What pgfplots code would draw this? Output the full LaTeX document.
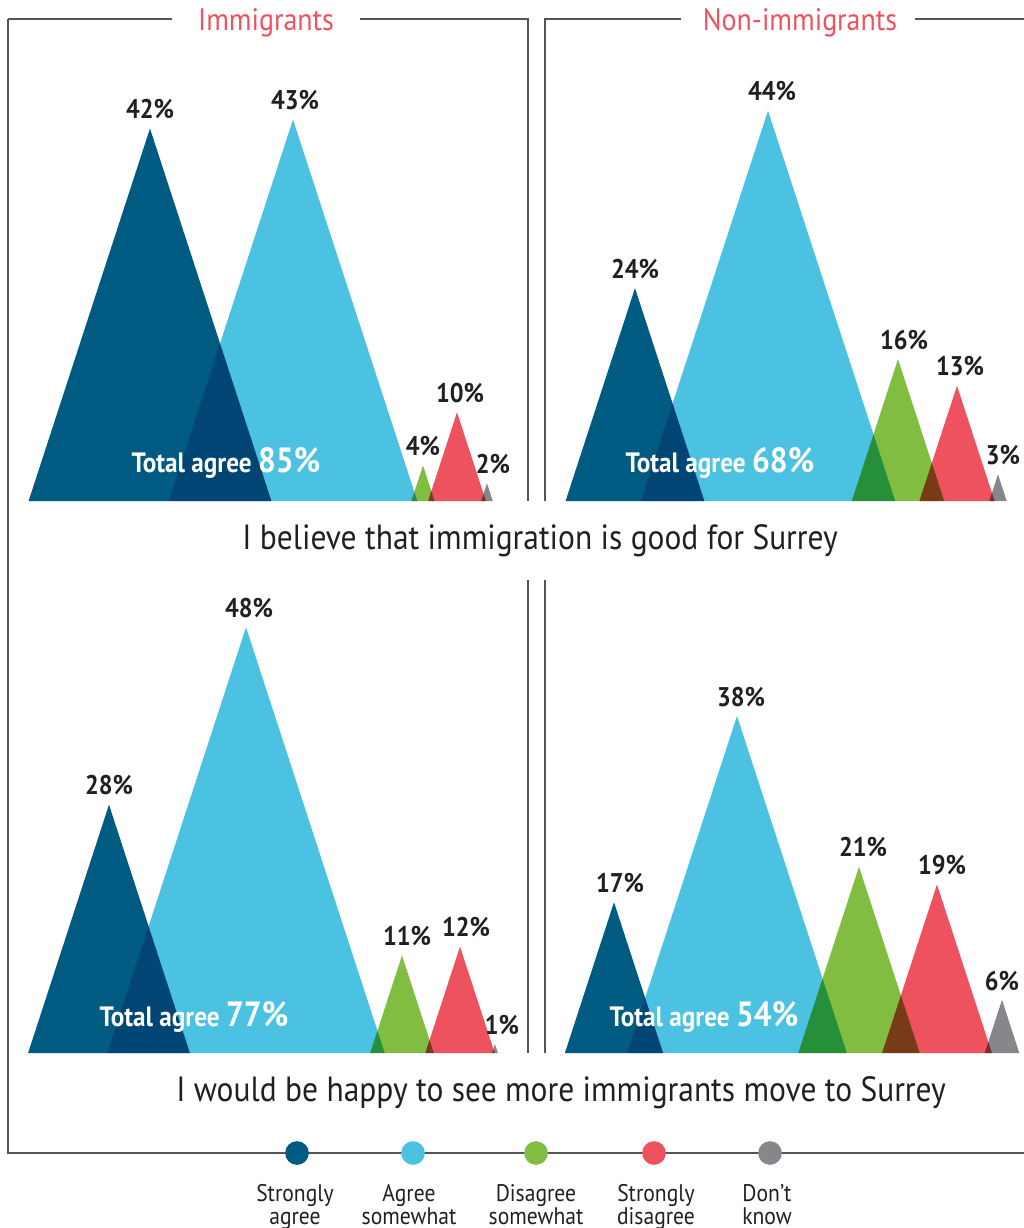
\documentclass[border=0pt]{standalone}
\usepackage{fontspec}
\setmainfont{PT Sans}[FakeStretch=0.9]
\usepackage{pgfplots}
\pgfplotsset{compat=1.18}
\definecolor{sa}{HTML}{005B82}
\definecolor{as}{HTML}{4BC2E2}
\definecolor{ds}{HTML}{80BD41}
\definecolor{sd}{HTML}{EE525E}
\definecolor{dk}{HTML}{86878B}
\definecolor{txt}{HTML}{231F20}
\definecolor{frame}{HTML}{555555}
\pgfplotsset{
  tri/.style={hide axis, clip=false, scale only axis, x=0.5pt, y=4.435pt,
    xmin=0, xmax=1024, ymin=0, ymax=50, anchor=south west},
  t/.style={fill=#1, draw=none, blend mode=multiply},
  lab/.style={only marks, mark=none, nodes near coords, point meta=explicit symbolic,
    nodes near coords style={font=\bfseries\fontsize{13.5}{15}\selectfont, text=txt, anchor=south, inner sep=0pt, yshift=4.5pt}},
}
\begin{document}
\begin{tikzpicture}[x=0.5pt,y=-0.5pt]
\useasboundingbox (0,0) rectangle (1024,1228);
% frame
\draw[frame, line width=0.8pt] (8,19) -- (8,1153) -- (1024,1153);
\draw[frame, line width=0.8pt] (8,19) -- (172,19);
\draw[frame, line width=0.8pt] (360,19) -- (528,19) -- (528,501);
\draw[frame, line width=0.8pt] (545,501) -- (545,19) -- (681,19);
\draw[frame, line width=0.8pt] (915,19) -- (1024,19);
\draw[frame, line width=0.8pt] (528,580) -- (528,1053);
\draw[frame, line width=0.8pt] (545,580) -- (545,1053);
% top row
\begin{axis}[tri, at={(0pt,-250.5pt)}]
\addplot[t=sa] coordinates {(28.6,0) (150,42) (271.4,0)} \closedcycle;
\addplot[t=as] coordinates {(168.7,0) (293,43) (417.3,0)} \closedcycle;
\addplot[t=ds] coordinates {(411.4,0) (423,4) (434.6,0)} \closedcycle;
\addplot[t=sd] coordinates {(428.1,0) (457,10) (485.9,0)} \closedcycle;
\addplot[t=dk] coordinates {(481.2,0) (487,2) (492.8,0)} \closedcycle;
\addplot[lab] coordinates {(150,42)[42\%] (295,43)[43\%] (423,4)[4\%] (460,10)[10\%] (493,2)[2\%]};
\addplot[t=sa] coordinates {(565.6,0) (635,24) (704.4,0)} \closedcycle;
\addplot[t=as] coordinates {(640.8,0) (768,44) (895.2,0)} \closedcycle;
\addplot[t=ds] coordinates {(851.8,0) (898,16) (944.2,0)} \closedcycle;
\addplot[t=sd] coordinates {(919.4,0) (957,13) (994.6,0)} \closedcycle;
\addplot[t=dk] coordinates {(989.3,0) (998,3) (1006.7,0)} \closedcycle;
\addplot[lab] coordinates {(635,24)[24\%] (772,44)[44\%] (904,16)[16\%] (960,13)[13\%] (1003,3)[3\%]};
\end{axis}
% bottom row
\begin{axis}[tri, at={(0pt,-526.5pt)}]
\addplot[t=sa] coordinates {(28.1,0) (109,28) (189.9,0)} \closedcycle;
\addplot[t=as] coordinates {(107.3,0) (246,48) (384.7,0)} \closedcycle;
\addplot[t=ds] coordinates {(370.2,0) (402,11) (433.8,0)} \closedcycle;
\addplot[t=sd] coordinates {(425.3,0) (460,12) (494.7,0)} \closedcycle;
\addplot[t=dk] coordinates {(492.1,0) (495,1) (497.9,0)} \closedcycle;
\addplot[lab] coordinates {(109,28)[28\%] (249,48)[48\%] (407,11)[11\%] (466,12)[12\%] (502,1)[1\%]};
\addplot[t=sa] coordinates {(564.9,0) (614,17) (663.1,0)} \closedcycle;
\addplot[t=as] coordinates {(627.2,0) (737,38) (846.8,0)} \closedcycle;
\addplot[t=ds] coordinates {(798.3,0) (859,21) (919.7,0)} \closedcycle;
\addplot[t=sd] coordinates {(882.1,0) (937,19) (991.9,0)} \closedcycle;
\addplot[t=dk] coordinates {(984.7,0) (1002,6) (1019.3,0)} \closedcycle;
\addplot[lab] coordinates {(620,17)[17\%] (741,38)[38\%] (863,21)[21\%] (942,19)[19\%] (1002,6)[6\%]};
\end{axis}
% legend markers
\begin{axis}[hide axis, clip=false, scale only axis, x=0.5pt, y=0.5pt, xmin=0, xmax=1024, ymin=0, ymax=100, anchor=south west, at={(0pt,-614pt)}]
\addplot[only marks, mark=*, mark size=5.7pt, color=sa] coordinates {(297,75)};
\addplot[only marks, mark=*, mark size=5.7pt, color=as] coordinates {(413,75)};
\addplot[only marks, mark=*, mark size=5.7pt, color=ds] coordinates {(536,75)};
\addplot[only marks, mark=*, mark size=5.7pt, color=sd] coordinates {(654,75)};
\addplot[only marks, mark=*, mark size=5.7pt, color=dk] coordinates {(770,75)};
\end{axis}
% titles
\node[text=sd, font=\fontsize{15.5}{17}\selectfont] at (266,23) {Immigrants};
\node[text=sd, font=\fontsize{15.5}{17}\selectfont] at (800,23) {Non-immigrants};
\node[text=txt, font=\fontsize{17.5}{20}\selectfont] at (540,541) {I believe that immigration is good for Surrey};
\node[text=txt, font=\fontsize{17.5}{20}\selectfont] at (561,1093) {I would be happy to see more immigrants move to Surrey};
% total agree
\node[text=white, font=\bfseries\fontsize{14}{16}\selectfont] at (226,463) {Total agree {\fontsize{17.5}{19}\selectfont 85\%}};
\node[text=white, font=\bfseries\fontsize{14}{16}\selectfont] at (720,463) {Total agree {\fontsize{17.5}{19}\selectfont 68\%}};
\node[text=white, font=\bfseries\fontsize{14}{16}\selectfont] at (194,1017) {Total agree {\fontsize{17.5}{19}\selectfont 77\%}};
\node[text=white, font=\bfseries\fontsize{14}{16}\selectfont] at (704,1017) {Total agree {\fontsize{17.5}{19}\selectfont 54\%}};
% legend labels
\foreach \xx/\la/\lb in {295/Strongly/agree, 409/Agree/somewhat, 536/Disagree/somewhat, 656/Strongly/disagree, 767/Don’t/know}{
  \node[text=txt, font=\fontsize{12}{13}\selectfont, anchor=base] at (\xx,1201) {\la};
  \node[text=txt, font=\fontsize{12}{13}\selectfont, anchor=base] at (\xx,1224) {\lb};
}
\end{tikzpicture}
\end{document}
